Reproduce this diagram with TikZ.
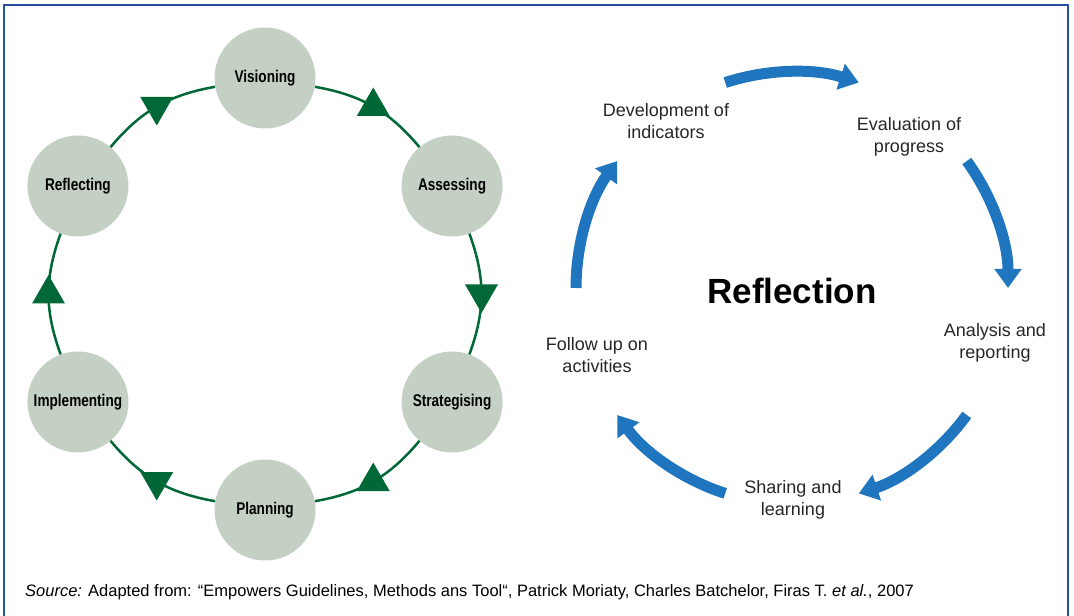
\documentclass[tikz,border=0pt]{standalone}
\usepackage{fontspec}
\setmainfont{Liberation Sans}
\newfontfamily\stagefont[FakeStretch=0.8]{Liberation Sans}
\usetikzlibrary{shapes.geometric,arrows.meta,calc}
\definecolor{stage-green}{HTML}{006837}
\definecolor{stage-grey}{HTML}{C5D0C5}
\definecolor{flow-blue}{HTML}{1F75BE}
\definecolor{frame-blue}{HTML}{2B4FA0}
\tikzset{
    stage/.style = {circle, fill=stage-grey, minimum size=101pt, inner sep=0pt, font=\stagefont\bfseries\fontsize{17}{20}\selectfont},
    stage-link/.style = {draw=stage-green, line width=2.5pt},
    marker-up/.style = {regular polygon, regular polygon sides=3, fill=stage-green, minimum size=38pt, inner sep=0pt},
    marker-down/.style = {marker-up, shape border rotate=180},
    flow-label/.style = {align=center, text=black!85, font=\fontsize{18}{22}\selectfont},
    flow-arrow/.style = {draw=flow-blue, line width=11pt, -{Triangle[width=26pt,length=19pt]}},
}

\begin{document}
\begin{tikzpicture}[x=1pt,y=1pt]
\useasboundingbox (0,0) rectangle (1074,616);
\draw[frame-blue, line width=1.5pt] (4,0) -- (4,611) -- (1068,611) -- (1068,0);

\begin{scope}[shift={(265,322)}]
\node[stage] (vis) at (90:216) {Visioning};
\node[stage] (ass) at (30:216) {Assessing};
\node[stage] (str) at (-30:216) {Strategising};
\node[stage] (pla) at (-90:216) {Planning};
\node[stage] (imp) at (-150:216) {Implementing};
\node[stage] (ref) at (150:216) {Reflecting};
\end{scope}
\draw[stage-link] (vis) to[bend left=20] node[marker-up]{} (ass);
\draw[stage-link] (ass) to[bend left=20] node[marker-down]{} (str);
\draw[stage-link] (str) to[bend left=20] node[marker-up]{} (pla);
\draw[stage-link] (pla) to[bend left=20] node[marker-down]{} (imp);
\draw[stage-link] (imp) to[bend left=20] node[marker-up]{} (ref);
\draw[stage-link] (ref) to[bend left=20] node[marker-down]{} (vis);

\coordinate (flow-c) at (792,328);
\node[font=\bfseries\fontsize{35}{40}\selectfont] (refl) at (792,325) {Reflection};
\node[flow-label] (dev) at (666,495) {Development of\\indicators};
\node[flow-label] (eva) at (909,479) {Evaluation of\\progress};
\node[flow-label] (ana) at (995,273) {Analysis and\\reporting};
\node[flow-label] (sha) at (793,116) {Sharing and\\learning};
\node[flow-label] (fol) at (597,261) {Follow up on\\activities};
\foreach \s in {108,36,-36,-108,180}
    \draw[flow-arrow] ($(flow-c)+(\s:216)$) arc[start angle=\s, delta angle=-36, radius=216];

\node[anchor=west, inner sep=0pt, font=\fontsize{16.5}{20}\selectfont] (src) at (25,24) {\textit{Source:} Adapted from: “Empowers Guidelines, Methods ans Tool“, Patrick Moriaty, Charles Batchelor, Firas T. \textit{et al.}, 2007};
\end{tikzpicture}
\end{document}
